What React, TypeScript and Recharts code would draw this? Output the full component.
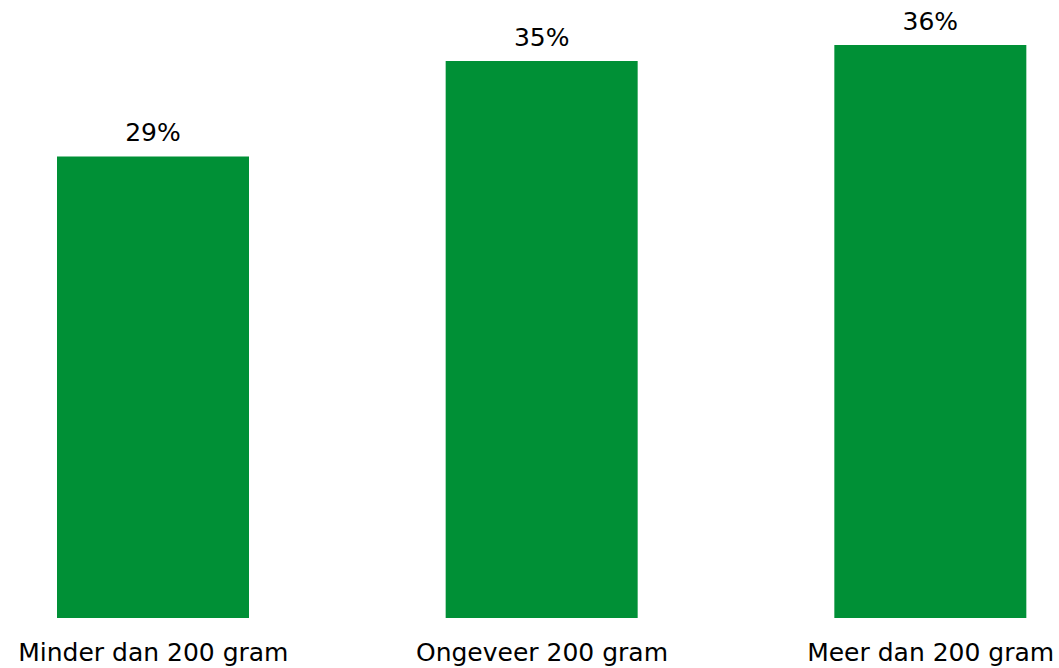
import React from "react";
import { BarChart, Bar, XAxis, YAxis, LabelList } from "recharts";

const categories = ["Minder dan 200 gram", "Ongeveer 200 gram", "Meer dan 200 gram"];
const percentages = [29, 35, 36];

const data = categories.map((name, i) => ({ name, value: percentages[i] }));

const FONT = "'DejaVu Sans', Verdana, sans-serif";

export default function App() {
  return (
    <div
      style={{
        position: "absolute",
        left: 0,
        top: 0,
        width: 1059,
        height: 668,
        overflow: "hidden",
        background: "#fff",
      }}
    >
      {/* plot area runs past both edges so the outer bars sit near the frame */}
      <div style={{ position: "absolute", left: -41, top: 0 }}>
        <BarChart
          width={1166}
          height={668}
          data={data}
          margin={{ top: 45, right: 0, bottom: 0, left: 0 }}
          barSize={192}
        >
          <XAxis
            dataKey="name"
            height={50}
            axisLine={false}
            tickLine={false}
            tickSize={0}
            tickMargin={25}
            interval={0}
            tick={{ fill: "#000", fontSize: 25, fontFamily: FONT }}
          />
          <YAxis hide domain={[0, 36]} />
          <Bar dataKey="value" fill="#009036" isAnimationActive={false}>
            <LabelList
              dataKey="value"
              position="top"
              offset={15}
              formatter={(v: number) => `${v}%`}
              style={{ fill: "#000", fontSize: 25, fontFamily: FONT }}
            />
          </Bar>
        </BarChart>
      </div>
    </div>
  );
}
